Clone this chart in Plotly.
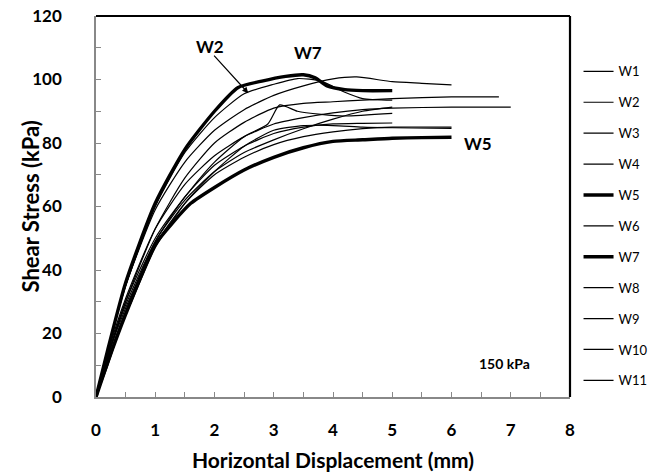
import plotly.graph_objects as go

names = ["W1", "W2", "W3", "W4", "W5", "W6", "W7", "W8", "W9", "W10", "W11"]

w1_x = [0, 0.2, 0.5, 1.0, 1.5, 2.0, 2.5, 3.0, 3.5, 4.0, 4.4, 5.0, 5.5, 6.0]
w1_y = [0, 15, 35, 59, 74, 84, 90.5, 95, 98, 100.2, 100.8, 99.3, 98.8, 98.3]
w2_x = [0, 0.2, 0.5, 1.0, 1.5, 2.0, 2.5, 3.0, 3.4, 3.8, 4.2, 4.5, 5.0]
w2_y = [0, 15, 35, 60, 77, 88, 95.5, 98.5, 100.3, 99.5, 96, 94, 93.5]
w3_x = [0, 0.2, 0.5, 1.0, 1.5, 2.0, 2.5, 3.0, 3.5, 4.0, 4.5, 5.0, 6.0, 6.8]
w3_y = [0, 13, 30, 53, 69, 80, 86.5, 91, 92.5, 93, 93.5, 94, 94.5, 94.5]
w4_x = [0, 0.2, 0.5, 1.0, 1.5, 2.0, 2.5, 3.0, 3.5, 4.0, 4.5, 5.0, 6.0, 7.0]
w4_y = [0, 14, 31, 53, 67, 76, 82, 86, 88, 89.5, 90.5, 91, 91.3, 91.3]
w5_x = [0, 0.2, 0.5, 1.0, 1.3, 1.6, 2.0, 2.5, 3.0, 3.5, 4.0, 4.5, 5.0, 5.5, 6.0]
w5_y = [0, 11, 26, 48, 55, 61, 66, 71.5, 75.5, 78.5, 80.5, 81, 81.5, 81.7, 81.8]
w6_x = [0, 0.2, 0.5, 1.0, 1.5, 2.0, 2.5, 2.9, 3.1, 3.4, 3.8, 4.2, 5.0]
w6_y = [0, 13, 30, 50, 63, 74, 82, 86, 92, 90, 89, 88.5, 89.3]
w7_x = [0, 0.2, 0.5, 1.0, 1.5, 2.0, 2.4, 2.8, 3.2, 3.5, 3.7, 3.9, 4.2, 4.5, 5.0]
w7_y = [0, 15, 36, 61, 78, 90, 97.5, 99.5, 101, 101.5, 100.5, 98, 96.8, 96.5, 96.5]
w8_x = [0, 0.2, 0.5, 1.0, 1.5, 2.0, 2.5, 3.0, 3.5, 4.0, 4.5, 5.0]
w8_y = [0, 13, 29, 49, 63, 73, 79, 83, 85, 86, 86.2, 86.3]
w9_x = [0, 0.2, 0.5, 1.0, 1.5, 2.0, 2.5, 3.0, 3.5, 4.0, 4.5, 5.0, 6.0]
w9_y = [0, 13, 28, 48, 61, 70, 75.5, 79.5, 82, 83.5, 84.5, 85, 85]
w10_x = [0, 0.2, 0.5, 1.0, 1.5, 2.0, 2.5, 3.0, 3.5, 4.0, 4.5, 5.0]
w10_y = [0, 12, 27, 49, 62, 71, 77, 81, 84.5, 87.5, 90, 91.3]
w11_x = [0, 0.2, 0.45, 0.6, 1.0, 1.5, 2.0, 2.5, 3.0, 3.5, 4.0, 4.5, 5.0, 6.0]
w11_y = [0, 10, 24, 30, 47, 61, 71, 79, 84, 85.5, 85.5, 85, 84.8, 84.6]

xs = [w1_x, w2_x, w3_x, w4_x, w5_x, w6_x, w7_x, w8_x, w9_x, w10_x, w11_x]
ys = [w1_y, w2_y, w3_y, w4_y, w5_y, w6_y, w7_y, w8_y, w9_y, w10_y, w11_y]
thick = {"W5", "W7"}

FONT = "Lato"
fig = go.Figure()
for n, x, y in zip(names, xs, ys):
    fig.add_trace(go.Scatter(
        x=x, y=y, name=n, mode="lines", legendgroup=n,
        line=dict(color="black", width=3.4 if n in thick else 1.2,
                  shape="spline", smoothing=0.6),
    ))

fig.update_layout(
    width=665, height=476,
    margin=dict(l=96, r=95, t=16, b=79, autoexpand=False),
    paper_bgcolor="white", plot_bgcolor="white",
    font=dict(family=FONT, color="black"),
    showlegend=True,
    legend=dict(x=1.018, xanchor="left", y=0.894, yanchor="top",
                font=dict(size=13, family=FONT), tracegroupgap=11,
                itemwidth=30, bgcolor="rgba(0,0,0,0)"),
    xaxis=dict(range=[0, 8], dtick=1, showgrid=False, zeroline=False,
               automargin=False, ticklabeloverflow="allow",
               showline=True, linecolor="#888", linewidth=1.5,
               ticks="inside", ticklen=5, tickcolor="#888",
               minor=dict(dtick=0.5, ticks="inside", ticklen=5, tickcolor="#888"),
               tickfont=dict(size=17, family=FONT, weight="bold"),
               ticklabelstandoff=17,
               title=dict(text="<b>Horizontal Displacement (mm)</b>",
                          font=dict(size=21, family=FONT), standoff=14)),
    yaxis=dict(range=[0, 120], dtick=20, showgrid=False, zeroline=False,
               automargin=False, ticklabeloverflow="allow",
               showline=True, linecolor="#888", linewidth=1.5,
               ticks="inside", ticklen=5, tickcolor="#888",
               minor=dict(dtick=10, ticks="inside", ticklen=5, tickcolor="#888"),
               tickfont=dict(size=17, family=FONT, weight="bold"),
               ticklabelstandoff=29),
)

fig.add_annotation(xref="paper", yref="paper", x=0, y=0.5, xshift=-66,
                   xanchor="center", yanchor="middle",
                   text="<b>Shear Stress (kPa)</b>", textangle=-90,
                   showarrow=False, font=dict(size=22, family=FONT))

# frame (top and right borders)
fig.add_shape(type="line", xref="paper", yref="paper", x0=0, x1=1, y0=1, y1=1,
              line=dict(color="black", width=2.2))
fig.add_shape(type="line", xref="paper", yref="paper", x0=1, x1=1, y0=0, y1=1,
              line=dict(color="black", width=2.2))

fig.add_annotation(x=2.57, y=95.7, ax=1.97, ay=108, axref="x", ayref="y",
                   text="", showarrow=True, arrowhead=2, arrowsize=1,
                   arrowwidth=1.2, arrowcolor="black")
fig.add_annotation(x=1.92, y=110.5, text="<b>W2</b>", showarrow=False,
                   font=dict(size=17, family=FONT))
fig.add_annotation(x=3.58, y=108.5, text="<b>W7</b>", showarrow=False,
                   font=dict(size=17, family=FONT))
fig.add_annotation(x=6.45, y=80, text="<b>W5</b>", showarrow=False,
                   font=dict(size=17, family=FONT))
fig.add_annotation(x=6.9, y=10.5, text="<b>150 kPa</b>", showarrow=False,
                   font=dict(size=14, family=FONT))

fig.write_html("out.html",
               config={"displayModeBar": False},
               post_script="document.body.style.margin='0';"
                           "document.body.style.overflow='hidden';")
